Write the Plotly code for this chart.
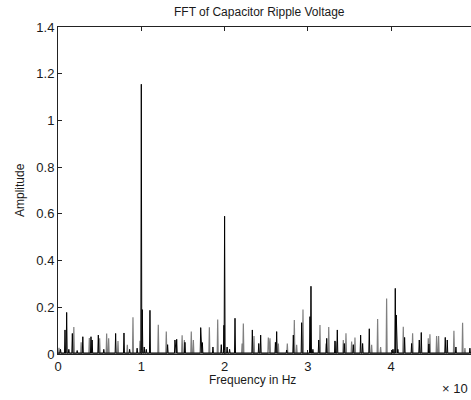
import plotly.graph_objects as go

# Spectral lines of the capacitor ripple voltage (frequency in units of 10^n Hz)
black_freq = [0.03, 0.084, 0.104, 0.13, 0.172, 0.23, 0.298, 0.396, 0.41, 0.484,
              0.55, 0.692, 0.792, 0.86, 0.95, 1.0, 1.012, 1.035, 1.06, 1.104,
              1.316, 1.404, 1.425, 1.524, 1.713, 1.733, 1.86, 1.96, 1.992, 2.0,
              2.03, 2.06, 2.125, 2.333, 2.41, 2.433, 2.61, 2.625, 2.745, 2.825,
              2.925, 3.025, 3.037, 3.06, 3.13, 3.226, 3.325, 3.353, 3.437, 3.545,
              3.633, 3.657, 3.737, 4.02, 4.049, 4.061, 4.08, 4.161, 4.245, 4.337,
              4.361, 4.453, 4.649, 4.673, 4.777, 4.945]
black_amp = [0.02, 0.103, 0.178, 0.02, 0.088, 0.015, 0.074, 0.074, 0.06, 0.081,
             0.02, 0.088, 0.09, 0.02, 0.025, 1.155, 0.19, 0.03, 0.02, 0.187,
             0.04, 0.06, 0.063, 0.05, 0.113, 0.049, 0.03, 0.04, 0.123, 0.59,
             0.03, 0.02, 0.153, 0.103, 0.045, 0.081, 0.05, 0.096, 0.017, 0.081,
             0.134, 0.16, 0.29, 0.02, 0.06, 0.067, 0.056, 0.103, 0.045, 0.04,
             0.081, 0.045, 0.108, 0.02, 0.281, 0.167, 0.02, 0.071, 0.045, 0.06,
             0.092, 0.043, 0.071, 0.06, 0.03, 0.025]

gray_freq = [0.012, 0.19, 0.278, 0.376, 0.5, 0.584, 0.608, 0.72, 0.832, 0.9,
             0.984, 1.204, 1.3, 1.49, 1.517, 1.6, 1.625, 1.817, 1.917, 2.21,
             2.225, 2.353, 2.525, 2.545, 2.645, 2.753, 2.837, 2.865, 2.941, 3.145,
             3.217, 3.25, 3.337, 3.425, 3.457, 3.525, 3.565, 3.765, 3.837, 3.873,
             3.945, 4.033, 4.145, 4.257, 4.445, 4.465, 4.545, 4.569, 4.753, 4.857,
             4.885]
gray_amp = [0.027, 0.116, 0.05, 0.068, 0.067, 0.088, 0.067, 0.056, 0.04, 0.157,
            0.057, 0.125, 0.096, 0.08, 0.06, 0.096, 0.06, 0.114, 0.148, 0.045,
            0.131, 0.077, 0.071, 0.067, 0.045, 0.045, 0.146, 0.04, 0.191, 0.124,
            0.045, 0.116, 0.053, 0.06, 0.089, 0.053, 0.071, 0.04, 0.15, 0.03,
            0.238, 0.02, 0.117, 0.089, 0.067, 0.084, 0.077, 0.077, 0.099, 0.134,
            0.025]

x_ticks = [0, 1, 2, 3, 4]
y_ticks = [0, 0.2, 0.4, 0.6, 0.8, 1.0, 1.2, 1.4]


def spectrum(freqs, amps, floor, half_width=0.006):
    """Turn a list of spectral lines into a polyline sitting on a noise floor."""
    xs, ys = [0.0], [floor]
    for f, a in sorted(zip(freqs, amps)):
        xs += [f - half_width, f, f + half_width]
        ys += [floor, a, floor]
    xs.append(5.0)
    ys.append(floor)
    return xs, ys


gx, gy = spectrum(gray_freq, gray_amp, 0.003)
bx, by = spectrum(black_freq, black_amp, 0.004)

fig = go.Figure()
fig.add_trace(go.Scatter(x=gx, y=gy, mode="lines",
                         line=dict(color="#808080", width=1.2),
                         showlegend=False, hoverinfo="skip"))
fig.add_trace(go.Scatter(x=bx, y=by, mode="lines",
                         line=dict(color="#000000", width=1),
                         showlegend=False, hoverinfo="skip"))

font = dict(family="Liberation Sans, Arial, sans-serif", size=12, color="#1a1a1a")
tick_font = dict(family="Liberation Sans, Arial, sans-serif", size=13, color="#1a1a1a")

fig.update_layout(
    width=471, height=400,
    margin=dict(l=58, r=0, t=27, b=46),
    paper_bgcolor="white", plot_bgcolor="white",
    font=font,
    xaxis=dict(range=[0, 4.958], tickvals=x_ticks, ticktext=[str(t) for t in x_ticks],
               ticks="inside", ticklen=4, tickcolor="#222",
               showline=True, linecolor="#222", linewidth=1, mirror="ticks",
               showgrid=False, zeroline=False, tickfont=tick_font),
    yaxis=dict(range=[0, 1.4], tickvals=y_ticks,
               ticks="inside", ticklen=4, tickcolor="#222",
               showline=True, linecolor="#222", linewidth=1, mirror=False,
               showgrid=False, zeroline=False, tickfont=tick_font),
    annotations=[
        dict(text="FFT of Capacitor Ripple Voltage", x=(259 - 58) / 413, y=1,
             xref="paper", yref="paper", yshift=15, showarrow=False,
             xanchor="center", yanchor="middle", font=font),
        dict(text="Frequency in Hz", x=(252 - 58) / 413, y=0,
             xref="paper", yref="paper", yshift=-26, showarrow=False,
             xanchor="center", yanchor="middle", font=font),
        dict(text="Amplitude", x=0, y=(354 - 190) / 327,
             xref="paper", yref="paper", xshift=-38, showarrow=False,
             textangle=-90, xanchor="center", yanchor="middle", font=font),
        dict(text="× 10", x=1, y=0, xref="paper", yref="paper",
             yshift=-34, xshift=-1, showarrow=False,
             xanchor="right", yanchor="middle", font=tick_font),
    ],
)

fig.write_html("out.html")
